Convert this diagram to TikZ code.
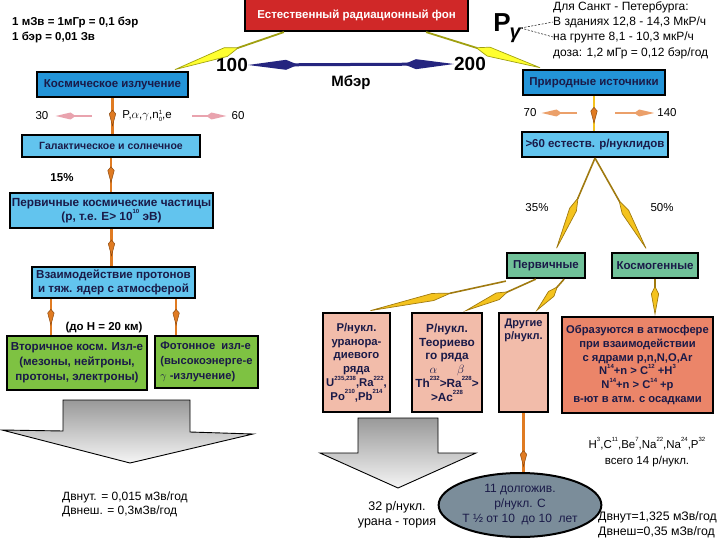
\documentclass[tikz,border=0pt]{standalone}
\usepackage{fontspec}
\setmainfont{Liberation Sans}
\usetikzlibrary{arrows.meta,decorations.markings,shapes.geometric}
\definecolor{redC}{HTML}{D02828}
\definecolor{blueC}{HTML}{2394D8}
\definecolor{lblueC}{HTML}{62C4EE}
\definecolor{greenC}{HTML}{7EC242}
\definecolor{tealC}{HTML}{70C199}
\definecolor{pinkC}{HTML}{F2BCAA}
\definecolor{salmC}{HTML}{EB8569}
\definecolor{ellC}{HTML}{7B8D9A}
\definecolor{yelC}{HTML}{FFFF30}
\definecolor{yelD}{HTML}{A0A010}
\definecolor{goldC}{HTML}{F4C31E}
\definecolor{goldD}{HTML}{A07A10}
\definecolor{oraC}{HTML}{E07B22}
\definecolor{oraD}{HTML}{8C4A10}
\definecolor{pinkA}{HTML}{E9A3AE}
\definecolor{tanA}{HTML}{EBA06A}
\definecolor{navyC}{HTML}{25257F}
\definecolor{txtC}{HTML}{1A1A48}
\newcommand\spx[1]{\raisebox{1.05ex}{\fontsize{6}{6}\selectfont #1}}
\newcommand\fs[1]{\fontsize{#1}{#1}\selectfont}
\tikzset{
  box/.style={draw=black, line width=2.2pt, inner sep=0pt, align=center, text=txtC,
    font=\fontsize{11.5}{13.5}\selectfont\bfseries},
  lab/.style={inner sep=0pt, text=black, font=\fontsize{11.5}{13.5}\selectfont},
  blab/.style={inner sep=0pt, text=black, font=\fontsize{11.5}{13.5}\selectfont\bfseries},
  ybolt/.style n args={2}{draw=yelD, line width=1.8pt,
    -{Kite[length=#1,width=10pt,inset=#2,color=yelD,fill=yelC,line width=0.7pt]}},
  gbolt/.style n args={2}{draw=goldD, line width=1.6pt,
    -{Kite[length=#1,width=8pt,inset=#2,color=goldD,fill=goldC,line width=0.7pt]}},
  obolt/.style={draw=oraC, line width=2.6pt, postaction={decorate, decoration={markings,
    mark=at position #1 with {\arrow{Kite[length=17pt,width=7pt,inset=4pt,color=oraD,fill=oraC,line width=0.5pt]}}}}},
  sidearr/.style={draw=#1, line width=2.4pt, -{Kite[length=20pt,width=7pt,inset=5pt,color=#1]}},
  grayarr/.style={draw=black, line width=0.9pt, top color=gray!80, bottom color=gray!8},
}
\begin{document}
\begin{tikzpicture}[x=1pt,y=-1pt]
\useasboundingbox (0,0) rectangle (720,540);

% big gray arrows
\draw[grayarr] (63,400) -- (190,400) -- (190,432) -- (253,434) -- (130,463) -- (2,430) -- (63,431) -- cycle;
\draw[grayarr] (358,418) -- (438,418) -- (438,453) -- (476,453) -- (398,488) -- (320,453) -- (358,453) -- cycle;

% top notes
\node[blab, anchor=west] (u1) at (12,22) {1 мЗв = 1мГр = 0,1 бэр};
\node[blab, anchor=west] (u2) at (12,37) {1 бэр = 0,01 Зв};

% boxes
\node[box, fill=redC, text=white, minimum width=223pt, minimum height=32pt,
  font=\fontsize{11.5}{13}\selectfont\bfseries] (red) at (356.5,15) {Естественный радиационный фон};
\node[box, fill=blueC, minimum width=151pt, minimum height=25pt] (kosm) at (112.5,84.5) {Космическое излучение};
\node[box, fill=lblueC, minimum width=178pt, minimum height=22pt, font=\fontsize{10.5}{12}\selectfont\bfseries] (gal) at (111,146) {Галактическое и солнечное};
\node[box, fill=lblueC, minimum width=203pt, minimum height=35pt, font=\fontsize{11.8}{14}\selectfont\bfseries] (perv) at (111.5,210.5) {Первичные космические частицы\\(р, т.е. E> 10\spx{10} эВ)};
\node[box, fill=lblueC, minimum width=163pt, minimum height=31pt, font=\fontsize{11.6}{14}\selectfont\bfseries] (vzaim) at (113.5,282.5) {Взаимодействие протонов\\и тяж. ядер с атмосферой};
\node[box, fill=greenC, minimum width=140pt, minimum height=54pt, font=\fontsize{11.6}{15}\selectfont\bfseries] (vtor) at (77,363) {Вторичное косм. Изл-е\\(мезоны, нейтроны,\\протоны, электроны)};
\node[box, fill=greenC, minimum width=103pt, minimum height=52pt, align=left, font=\fontsize{11.2}{15}\selectfont\bfseries] (foton) at (206.5,362) {Фотонное\ \ изл-е\\(высокоэнерге-е\\$\gamma$ -излучение)};
\node[box, fill=blueC, minimum width=142pt, minimum height=25pt] (prir) at (594,82.5) {Природные источники};
\node[box, fill=lblueC, minimum width=146pt, minimum height=25pt] (est) at (595,144.5) {>60 естеств. р/нуклидов};
\node[box, fill=tealC, minimum width=78pt, minimum height=25pt] (pervn) at (546,265.5) {Первичные};
\node[box, fill=tealC, minimum width=86pt, minimum height=25pt] (kosmog) at (655,265.5) {Космогенные};
\node[box, fill=pinkC, minimum width=67pt, minimum height=99pt, font=\fontsize{11.3}{13.8}\selectfont\bfseries] (b1) at (356.5,362.5)
  {Р/нукл.\\уранора-\\диевого\\ряда\\U\spx{235,238},Ra\spx{222},\\Po\spx{210},Pb\spx{214}};
\node[box, fill=pinkC, minimum width=70pt, minimum height=99pt, font=\fontsize{11.8}{13.8}\selectfont\bfseries] (b2) at (447,362.5)
  {Р/нукл.\\Теориево\\го ряда\\$\alpha$\hspace{20pt}$\beta$\\Th\spx{232}>Ra\spx{228}>\\>Ac\spx{228}};
\node[box, fill=pinkC, minimum width=49pt, minimum height=99pt] (b3) at (523.5,362.5) {};
\node[blab, text=txtC, align=center, anchor=north, font=\fontsize{11}{13}\selectfont\bfseries] (b3t) at (523.5,319) {Другие\\р/нукл.};
\node[box, fill=salmC, minimum width=151pt, minimum height=96pt, font=\fontsize{11.2}{13.8}\selectfont\bfseries] (b4) at (637.5,365)
  {Образуются в атмосфере\\при взаимодействии\\с ядрами p,n,N,O,Ar\\N\spx{14}+n > C\spx{12} +H\spx{3}\\N\spx{14}+n > C\spx{14} +p\\в-ют в атм. с осадками};
\node[ellipse, draw=black, line width=2pt, fill=ellC, minimum width=154pt, minimum height=64pt, inner sep=0pt,
  align=center, text=txtC, font=\fontsize{12}{15}\selectfont] (ell) at (520,505) {11 долгожив.\\р/нукл. С\\T ½ от 10\ \ до 10\ \ лет};

% numbers and labels
\node[inner sep=0pt, font=\fontsize{19}{19}\selectfont\bfseries] (n100) at (232,65) {100};
\node[inner sep=0pt, font=\fontsize{19}{19}\selectfont\bfseries] (n200) at (470,64) {200};
\node[inner sep=0pt, font=\fontsize{15}{15}\selectfont\bfseries] (mber) at (351,83) {Мбэр};
\node[inner sep=0pt, font=\fontsize{26}{26}\selectfont\bfseries] (pg) at (507,28) {P\hspace{-1pt}\raisebox{-7pt}{\fs{20}\bfseries\itshape γ}};
\node[lab, anchor=west, font=\fontsize{12}{14}\selectfont] (t1) at (553,7) {Для Санкт - Петербурга:};
\node[lab, anchor=west, font=\fontsize{12}{14}\selectfont] (t2) at (553,22) {В зданиях 12,8 - 14,3 МкР/ч};
\node[lab, anchor=west, font=\fontsize{12}{14}\selectfont] (t3) at (553,37) {на грунте 8,1 - 10,3 мкР/ч};
\node[lab, anchor=west, font=\fontsize{12}{14}\selectfont] (t4) at (553,53) {доза: 1,2 мГр = 0,12 бэр/год};

\node[lab] (n30) at (42,116) {30};
\node[lab] (n60) at (238,116) {60};
\node[lab, font=\fontsize{11.5}{13}\selectfont] (part) at (147,116) {P,$\alpha$,$\gamma$,n\raisebox{-0.5ex}{\fs{6}\shortstack{1\\0}},e};
\node[blab] (p15) at (62,178) {15\%};
\node[blab] (h20) at (104,328) {(до H = 20 км)};
\node[lab] (n70) at (530,113) {70};
\node[lab] (n140) at (667,113) {140};
\node[lab] (p35) at (537,208) {35\%};
\node[lab] (p50) at (662,208) {50\%};
\node[lab, align=center, font=\fontsize{11.5}{16}\selectfont] (iso) at (647,452) {H\spx{3},C\spx{11},Be\spx{7},Na\spx{22},Na\spx{24},P\spx{32}\\всего 14 р/нукл.};
\node[lab, align=center, font=\fontsize{12.5}{15}\selectfont] (u32) at (397,515) {32 р/нукл.\\урана - тория};
\node[lab, align=left, anchor=west, font=\fontsize{12}{14}\selectfont] (dl) at (62,504) {Двнут. = 0,015 мЗв/год\\Двнеш. = 0,3мЗв/год};
\node[lab, align=left, anchor=west, font=\fontsize{12.3}{15}\selectfont] (dr) at (598,525) {Двнут=1,325 мЗв/год\\Двнеш=0,35 мЗв/год};

% connectors
\draw[ybolt={72pt}{14pt}] ([xshift=40pt]red.south west) -- ([xshift=-18pt]kosm.north east);
\draw[ybolt={72pt}{14pt}] ([xshift=-43pt]red.south east) -- ([xshift=22pt]prir.north west);
\draw[navyC, line width=3pt, {Kite[length=50pt,width=10pt,inset=12pt]}-{Kite[length=50pt,width=10pt,inset=12pt]}] (n100.east) -- (n200.west);
\draw[black, line width=0.5pt, dash pattern=on 2pt off 1.5pt] (pg.east) -- (t2.west);
\draw[black, line width=0.5pt, dash pattern=on 2pt off 1.5pt] (pg.east) -- (t3.west);

\draw[obolt=0.8] (kosm.south) -- (kosm.south |- gal.north);
\draw[obolt=0.75] (gal.south) -- (gal.south |- perv.north);
\draw[obolt=0.75] (perv.south) -- (perv.south |- vzaim.north);
\coordinate (v1) at ([xshift=20pt]vzaim.south west);
\coordinate (v2) at ([xshift=-20pt]vzaim.south east);
\draw[obolt=0.75] (v1) -- (v1 |- vtor.north);
\draw[obolt=0.75] (v2) -- (v2 |- foton.north);
\draw[obolt=0.92] (b3.south) -- (b3.south |- ell.north);

\coordinate (a30) at (92,116);
\coordinate (a60) at (192,116);
\coordinate (a70) at (577,113);
\coordinate (a140) at (615,113);
\draw[sidearr=pinkA, shorten >=7pt] (a30) -- (n30.east);
\draw[sidearr=pinkA, shorten >=5pt] (a60) -- (n60.west);
\draw[sidearr=tanA, shorten >=5pt] (a70) -- (n70.east);
\draw[sidearr=tanA, shorten >=3pt] (a140) -- (n140.west);

\draw[obolt=0.8, draw=goldC] (prir.south) -- (prir.south |- est.north);
\draw[gbolt={60pt}{14pt}] (est.south) -- ([xshift=9pt]pervn.north);
\draw[gbolt={60pt}{14pt}] (est.south) -- ([xshift=-7pt]kosmog.north);
\draw[gbolt={90pt}{20pt}] ([yshift=-2pt]pervn.west |- pervn.south) -- ([xshift=8pt]b1.north);
\draw[gbolt={50pt}{12pt}] ([xshift=30pt]pervn.south west) -- ([xshift=16pt]b2.north);
\draw[gbolt={34pt}{10pt}] ([xshift=-22pt]pervn.south east) -- ([xshift=12pt]b3.north);
\draw[gbolt={30pt}{8pt}] (kosmog.south) -- (kosmog.south |- b4.north);
\end{tikzpicture}
\end{document}
